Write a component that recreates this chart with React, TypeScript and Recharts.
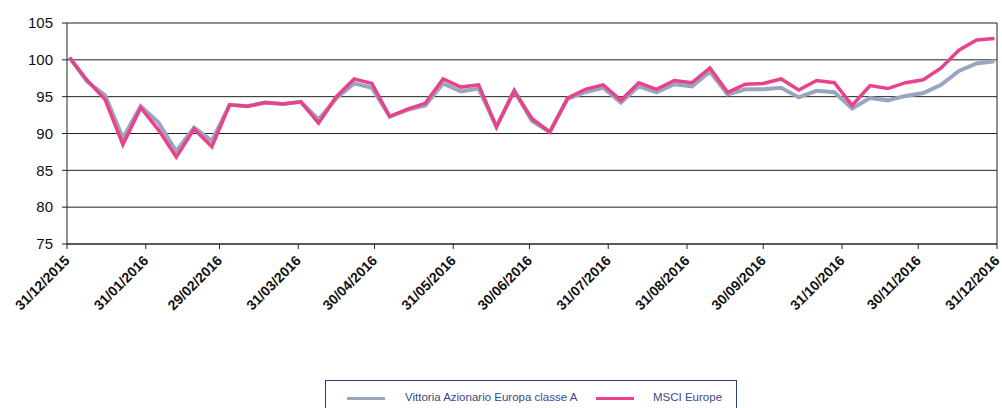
import { LineChart, Line, XAxis, YAxis, CartesianGrid, Legend, ReferenceLine } from 'recharts';

// weekly observations, day offset from 31/12/2015
const days = [
  1, 8, 15, 22, 29, 36, 43, 50, 57, 64, 71, 78, 85, 92, 99, 106, 113, 120, 127, 134,
  141, 148, 155, 162, 169, 176, 183, 190, 197, 204, 211, 218, 225, 232, 239, 246, 253, 260,
  267, 274, 281, 288, 295, 302, 309, 316, 323, 330, 337, 344, 351, 358, 365,
];

const vittoria = [
  100.3, 97.0, 95.2, 89.4, 93.7, 91.5, 87.6, 90.8, 89.0, 93.9, 93.7, 94.2, 94.0, 94.3, 91.9,
  94.8, 96.8, 96.2, 92.3, 93.2, 93.8, 96.8, 95.7, 96.1, 90.9, 95.8, 91.7, 90.2, 94.7, 95.6,
  96.2, 94.2, 96.4, 95.6, 96.7, 96.4, 98.4, 95.3, 96.0, 96.0, 96.2, 94.9, 95.8, 95.6, 93.4,
  94.8, 94.5, 95.1, 95.5, 96.6, 98.5, 99.5, 99.8,
];

const msci = [
  100.3, 97.2, 94.6, 88.5, 93.5, 90.5, 86.8, 90.6, 88.2, 93.9, 93.7, 94.2, 94.0, 94.3, 91.4,
  95.0, 97.4, 96.8, 92.3, 93.3, 94.1, 97.4, 96.3, 96.6, 90.9, 95.8, 92.0, 90.2, 94.8, 96.0,
  96.6, 94.5, 96.9, 96.0, 97.2, 96.9, 98.9, 95.6, 96.7, 96.8, 97.4, 95.9, 97.2, 96.9, 93.8,
  96.5, 96.1, 96.9, 97.3, 98.9, 101.3, 102.7, 102.9,
];

const tickDays = [0, 31, 60, 91, 121, 152, 182, 213, 244, 274, 305, 335, 366];
const tickLabels = [
  '31/12/2015', '31/01/2016', '29/02/2016', '31/03/2016', '30/04/2016', '31/05/2016',
  '30/06/2016', '31/07/2016', '31/08/2016', '30/09/2016', '31/10/2016', '30/11/2016', '31/12/2016',
];
const yTicks = [75, 80, 85, 90, 95, 100, 105];

const data = days.map((d, i) => ({ day: d, vittoria: vittoria[i], msci: msci[i] }));

const GRAY = '#9aa5bf';
const PINK = '#e8428a';

const DateTick = (props: any) => {
  const { x, y, payload } = props;
  const idx = tickDays.indexOf(payload.value);
  return (
    <g transform={`translate(${x},${y + 7})`}>
      <text
        transform="rotate(-45)"
        textAnchor="end"
        dy="0.35em"
        fontSize={14}
        fontWeight="bold"
        fontFamily="Liberation Sans, Arial, sans-serif"
        fill="#111"
      >
        {tickLabels[idx]}
      </text>
    </g>
  );
};

const LegendBox = () => (
  <div
    style={{
      width: 412,
      height: 40,
      border: '1.5px solid #2f3d7c',
      boxSizing: 'border-box',
      position: 'relative',
      fontFamily: 'Liberation Sans, Arial, sans-serif',
      fontSize: 11.5,
      color: '#3a4889',
    }}
  >
    <div style={{ position: 'absolute', left: 21, top: 16, width: 38, height: 3, background: GRAY }} />
    <div style={{ position: 'absolute', left: 79, top: 10 }}>Vittoria Azionario Europa classe A</div>
    <div style={{ position: 'absolute', left: 270, top: 16, width: 38, height: 3, background: PINK }} />
    <div style={{ position: 'absolute', left: 327, top: 10 }}>MSCI Europe</div>
  </div>
);

export default function App() {
  return (
    <div style={{ position: 'absolute', left: 0, top: 0, width: 1002, height: 408, overflow: 'hidden', background: '#fff' }}>
      <LineChart width={1002} height={408} data={data} margin={{ top: 23, right: 5, bottom: 24, left: 0 }}>
        <CartesianGrid vertical={false} stroke="#222" strokeOpacity={1} />
        <XAxis
          dataKey="day"
          type="number"
          domain={[0, 366]}
          ticks={tickDays}
          interval={0}
          tick={<DateTick />}
          tickSize={5}
          stroke="#222"
          height={100}
        />
        <YAxis
          domain={[75, 105]}
          ticks={yTicks}
          interval={0}
          width={67}
          tickSize={5}
          tickMargin={9}
          stroke="#222"
          tick={{ fill: '#111', fontSize: 15, fontFamily: 'Liberation Sans, Arial, sans-serif' }}
        />
        <ReferenceLine x={366} stroke="#222" />
        <Line
          type="linear"
          dataKey="vittoria"
          name="Vittoria Azionario Europa classe A"
          stroke={GRAY}
          strokeWidth={4}
          dot={false}
          isAnimationActive={false}
        />
        <Line
          type="linear"
          dataKey="msci"
          name="MSCI Europe"
          stroke={PINK}
          strokeWidth={3.5}
          dot={false}
          isAnimationActive={false}
        />
        <Legend
          content={<LegendBox />}
          wrapperStyle={{ position: 'absolute', left: 325, top: 380, width: 412, bottom: 'auto' }}
        />
      </LineChart>
    </div>
  );
}
